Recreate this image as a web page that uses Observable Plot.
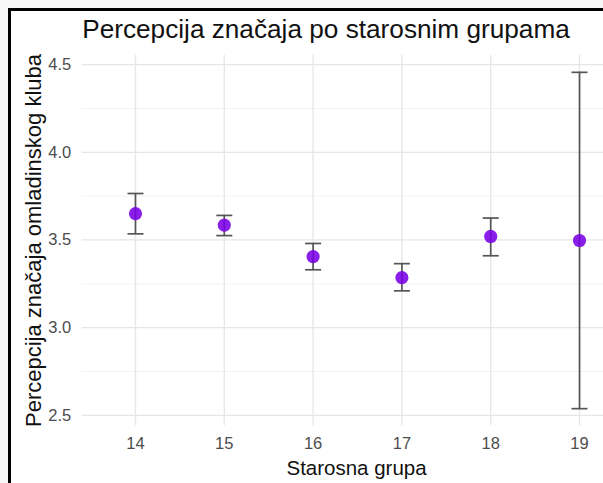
<!DOCTYPE html>
<html>
<head>
<meta charset="utf-8">
<script src="https://cdn.jsdelivr.net/npm/d3@7"></script>
<script src="https://cdn.jsdelivr.net/npm/@observablehq/plot@0.6"></script>
<style>
  html, body { margin: 0; padding: 0; width: 603px; height: 483px; overflow: hidden; background: #f7f7f7; }
  #frame { position: absolute; left: 8px; top: 8px; right: 0; bottom: 0; border-left: 3px solid #000; border-top: 3px solid #000; background: #fff; overflow: hidden; }
  #title { position: absolute; left: 0; top: 5px; width: 630px; text-align: center; font-family: "Liberation Sans", Arial, sans-serif; font-size: 26.2px; line-height: 26px; color: #111; white-space: nowrap; }
  #chart { position: absolute; left: 0; top: 39px; }
</style>
</head>
<body>
<div id="frame">
  <div id="title">Percepcija značaja po starosnim grupama</div>
  <div id="chart"></div>
</div>
<script>
const ages = [14, 15, 16, 17, 18, 19];
const means = [3.65, 3.585, 3.405, 3.285, 3.52, 3.497];
const lower = [3.535, 3.525, 3.33, 3.21, 3.41, 2.538];
const upper = [3.765, 3.64, 3.48, 3.365, 3.625, 4.456];
const yTicks = [2.5, 3.0, 3.5, 4.0, 4.5];
const yMinor = [2.75, 3.25, 3.75, 4.25];
const title = "Percepcija značaja po starosnim grupama";
const xLabel = "Starosna grupa";
const yLabel = "Percepcija značaja omladinskog kluba";

const data = ages.map((a, i) => ({age: a, mean: means[i], lo: lower[i], hi: upper[i]}));

const capSymbol = {
  draw(ctx, size) {
    const w = Math.sqrt(size / Math.PI);
    ctx.moveTo(-w, 0);
    ctx.lineTo(w, 0);
  }
};

const font = "'Liberation Sans', Arial, sans-serif";
const errColor = "#555555";

const chart = Plot.plot({
  width: 592,
  height: 433,
  marginLeft: 70.7,
  marginRight: 0,
  marginTop: 5,
  marginBottom: 58,
  style: {fontFamily: font, background: "transparent"},
  x: {type: "linear", domain: [13.4, 19.27]},
  y: {domain: [2.442, 4.552]},
  marks: [
    Plot.gridY(yMinor, {stroke: "#f1f1f1", strokeOpacity: 1, strokeWidth: 0.9}),
    Plot.gridY(yTicks, {stroke: "#e6e6e6", strokeOpacity: 1, strokeWidth: 1.3}),
    Plot.gridX(ages, {stroke: "#e6e6e6", strokeOpacity: 1, strokeWidth: 1.3}),
    Plot.axisY(yTicks, {tickSize: 0, tickPadding: 11, tickFormat: d3.format(".1f"), fill: "#4d4d4d", fontSize: 16.5, label: null}),
    Plot.axisX(ages, {tickSize: 0, tickPadding: 12, tickFormat: d => String(d), fill: "#4d4d4d", fontSize: 16.5, label: null}),
    Plot.ruleX(data, {x: "age", y1: "lo", y2: "hi", stroke: errColor, strokeWidth: 1.7}),
    Plot.dot(data, {x: "age", y: "lo", symbol: capSymbol, r: 8, stroke: errColor, strokeWidth: 1.7, fill: "none"}),
    Plot.dot(data, {x: "age", y: "hi", symbol: capSymbol, r: 8, stroke: errColor, strokeWidth: 1.7, fill: "none"}),
    Plot.dot(data, {x: "age", y: "mean", r: 6.6, fill: "#7a00e6", fillOpacity: 0.88, stroke: "none"}),
    Plot.text([yLabel], {text: d => d, frameAnchor: "left", dx: -48.7, rotate: -90, textAnchor: "middle", lineAnchor: "middle", fontSize: 22, fill: "#111"}),
    Plot.text([xLabel], {text: d => d, frameAnchor: "bottom", dx: 13.7, dy: 49, textAnchor: "middle", lineAnchor: "bottom", fontSize: 20.5, fill: "#111"})
  ]
});
document.getElementById("chart").appendChild(chart);
</script>
</body>
</html>
